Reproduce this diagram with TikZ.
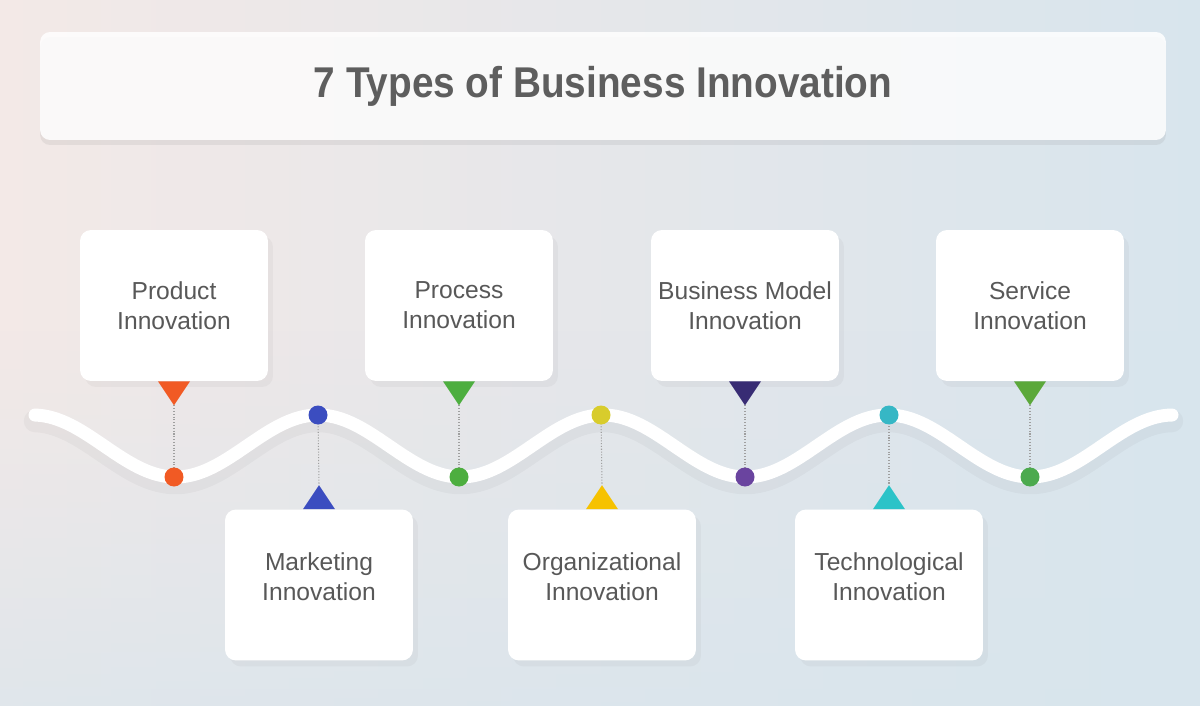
\documentclass[tikz,border=0pt]{standalone}
\usepackage{fontspec}
\setmainfont{Liberation Sans}
\newfontfamily\titlefont[FakeStretch=0.9]{Liberation Sans}
\usetikzlibrary{shadows,calc,fadings}

\definecolor{textgray}{HTML}{585858}
\definecolor{titlegray}{HTML}{5E5E5E}
\definecolor{bgpink}{HTML}{F3E9E7}
\definecolor{bgmid}{HTML}{F4F5F7}
\definecolor{bgblue}{HTML}{D8E5ED}
\definecolor{cOrange}{HTML}{F15A24}
\definecolor{cGreenA}{HTML}{4DAE3F}
\definecolor{cNavy}{HTML}{382C74}
\definecolor{cPurple}{HTML}{6A449F}
\definecolor{cGreenB}{HTML}{5BA83A}
\definecolor{cGreenC}{HTML}{4CAA4E}
\definecolor{cBlue}{HTML}{3B4DC0}
\definecolor{cYellowDot}{HTML}{D8CC2C}
\definecolor{cYellow}{HTML}{F6C200}
\definecolor{cCyanDot}{HTML}{36B7C5}
\definecolor{cCyan}{HTML}{2CC3C8}

\tikzset{
  card/.style={fill=white, rounded corners=0.22cm, minimum width=3.76cm,
    minimum height=3.02cm, align=center, text=textgray,
    font=\fontsize{14}{17}\selectfont,
    drop shadow={shadow xshift=0.1cm, shadow yshift=-0.12cm, opacity=0.07}},
  lowcard/.style={card, text depth=0.34cm},
  titlebox/.style={fill=white, fill opacity=0.85, text opacity=1,
    rounded corners=0.2cm, minimum width=22.52cm, minimum height=2.16cm,
    text=titlegray, font=\titlefont\bfseries\fontsize{24.5}{28}\selectfont,
    drop shadow={shadow xshift=0cm, shadow yshift=-0.1cm, opacity=0.13}},
  dot/.style={circle, inner sep=0pt, minimum size=0.38cm},
  leader/.style={densely dotted, gray!75, line width=0.6pt},
  wave/.style={white, line width=0.26cm, line cap=round}
}

\begin{document}
\begin{tikzpicture}[x=0.02cm, y=-0.02cm]
  \useasboundingbox (0,0) rectangle (1200,706);

  % background
  \shade[left color=bgpink, middle color=bgmid, right color=bgblue] (0,0) rectangle (1200,706);
  \shade[top color=bgblue, bottom color=bgblue, path fading=north, opacity=0.7] (0,330) rectangle (1200,706);

  \node[titlebox] (title) at (603,86) {7 Types of Business Innovation};

  % wave
  \draw[black, opacity=0.03, line width=0.45cm, line cap=round]
    plot[domain=35:1172, samples=240, smooth] (\x, {452-31*cos(1.26316*(\x-33))});
  \draw[wave] plot[domain=35:1172, samples=240, smooth] (\x, {446-31*cos(1.26316*(\x-33))});

  \node[card] (prod) at (174,305.5) {Product\\Innovation};
  \node[card] (proc) at (459,305.5) {Process\\Innovation};
  \node[card] (bmod) at (745,305.5) {Business Model\\Innovation};
  \node[card] (serv) at (1030,305.5) {Service\\Innovation};

  \node[lowcard] (mark) at (319,585) {Marketing\\Innovation};
  \node[lowcard] (orga) at (602,585) {Organizational\\Innovation};
  \node[lowcard] (tech) at (889,585) {Technological\\Innovation};

  \coordinate (tprod) at ($(prod.south)+(0,24)$);
  \coordinate (tproc) at ($(proc.south)+(0,24)$);
  \coordinate (tbmod) at ($(bmod.south)+(0,24)$);
  \coordinate (tserv) at ($(serv.south)+(0,24)$);
  \coordinate (tmark) at ($(mark.north)+(0,-24)$);
  \coordinate (torga) at ($(orga.north)+(0,-24)$);
  \coordinate (ttech) at ($(tech.north)+(0,-24)$);

  \coordinate (dprodc) at (174,477);
  \coordinate (dprocc) at (459,477);
  \coordinate (dbmodc) at (745,477);
  \coordinate (dservc) at (1030,477);
  \coordinate (dmarkc) at (318,415);
  \coordinate (dorgac) at (601,415);
  \coordinate (dtechc) at (889,415);

  \draw[leader] (tprod) -- (dprodc);
  \draw[leader] (tproc) -- (dprocc);
  \draw[leader] (tbmod) -- (dbmodc);
  \draw[leader] (tserv) -- (dservc);
  \draw[leader] (dmarkc) -- (tmark);
  \draw[leader] (dorgac) -- (torga);
  \draw[leader] (dtechc) -- (ttech);

  \node[dot, fill=cOrange] (dprod) at (dprodc) {};
  \node[dot, fill=cGreenA] (dproc) at (dprocc) {};
  \node[dot, fill=cPurple] (dbmod) at (dbmodc) {};
  \node[dot, fill=cGreenC] (dserv) at (dservc) {};
  \node[dot, fill=cBlue] (dmark) at (dmarkc) {};
  \node[dot, fill=cYellowDot] (dorga) at (dorgac) {};
  \node[dot, fill=cCyanDot] (dtech) at (dtechc) {};

  \fill[cOrange] ($(prod.south)+(-16,0)$) -- ($(prod.south)+(16,0)$) -- (tprod) -- cycle;
  \fill[cGreenA] ($(proc.south)+(-16,0)$) -- ($(proc.south)+(16,0)$) -- (tproc) -- cycle;
  \fill[cNavy] ($(bmod.south)+(-16,0)$) -- ($(bmod.south)+(16,0)$) -- (tbmod) -- cycle;
  \fill[cGreenB] ($(serv.south)+(-16,0)$) -- ($(serv.south)+(16,0)$) -- (tserv) -- cycle;
  \fill[cBlue] ($(mark.north)+(-16,0)$) -- ($(mark.north)+(16,0)$) -- (tmark) -- cycle;
  \fill[cYellow] ($(orga.north)+(-16,0)$) -- ($(orga.north)+(16,0)$) -- (torga) -- cycle;
  \fill[cCyan] ($(tech.north)+(-16,0)$) -- ($(tech.north)+(16,0)$) -- (ttech) -- cycle;
\end{tikzpicture}
\end{document}
